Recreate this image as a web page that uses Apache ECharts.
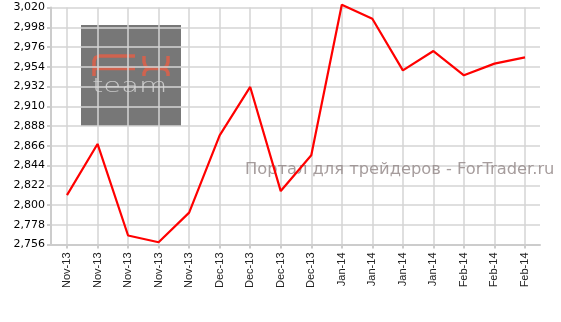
<!DOCTYPE html>
<html>
<head>
<meta charset="utf-8">
<script src="https://cdn.jsdelivr.net/npm/echarts@6/dist/echarts.min.js"></script>
<style>
html,body{margin:0;padding:0;background:#fff;}
#chart{width:561px;height:322px;}
</style>
</head>
<body>
<div id="chart"></div>
<script>
var categories = ['Nov-13','Nov-13','Nov-13','Nov-13','Nov-13','Dec-13','Dec-13','Dec-13','Dec-13','Jan-14','Jan-14','Jan-14','Jan-14','Feb-14','Feb-14','Feb-14'];
var values = [2811, 2868, 2766, 2758.5, 2791.5, 2877.5, 2931.5, 2815.5, 2855.5, 3023, 3007.5, 2950, 2971.5, 2944.5, 2957.5, 2964.5];
var yMin = 2756, yMax = 3020, yStep = 22;
var watermark = 'Портал для трейдеров - ForTrader.ru';

var chart = echarts.init(document.getElementById('chart'));
var gridTop = 7.5, gridBottom = 77.5;
var logoRed = '#d0634f';
function pl(points) {
  return {type: 'polyline', z: -9, shape: {points: points}, style: {fill: 'none', stroke: logoRed, lineWidth: 3.5, lineJoin: 'round'}};
}
chart.setOption({
  animation: false,
  grid: [
    {left: 51, right: 21, top: gridTop, bottom: gridBottom, containLabel: false},
    {left: 67, right: 36, top: gridTop, bottom: gridBottom, containLabel: false}
  ],
  graphic: [
    {type: 'rect', z: -10, shape: {x: 81, y: 25, width: 100, height: 101}, style: {fill: '#777777'}},
    pl([[94,76],[94,61],[95.5,57.5],[99,56],[135,56]]),
    pl([[94,68.5],[135,68.5]]),
    pl([[144,56],[144,62],[145.5,66.5],[149,68.5],[163,68.5],[166.5,66.5],[168,62],[168,56]]),
    pl([[144,76],[144,73],[145.5,70],[149,68.5]]),
    pl([[163,68.5],[166.5,70],[168,73],[168,76]]),
    {type: 'text', z: -9, x: 92, y: 77, scaleX: 1.45, style: {text: 'team', fill: '#c8c8c8', font: 'lighter 20px "DejaVu Sans"'}},
    {type: 'text', z: 5, x: 245, y: 162, style: {text: watermark, fill: 'rgba(150,140,140,0.85)', font: '16.3px "DejaVu Sans"'}}
  ],
  xAxis: [
    {gridIndex: 0, type: 'category', data: categories, boundaryGap: true,
     axisLine: {show: true, lineStyle: {color: '#cccccc', width: 2}},
     axisTick: {show: false}, axisLabel: {show: false}, splitLine: {show: false}},
    {gridIndex: 1, type: 'category', data: categories, boundaryGap: false,
     axisLine: {show: false},
     axisTick: {show: true, length: 4, lineStyle: {color: '#cccccc', width: 2}},
     axisLabel: {show: true, rotate: 90, interval: 0, color: '#222222', fontSize: 11, fontFamily: '"Liberation Sans", Arial', margin: 8},
     splitLine: {show: true, lineStyle: {color: '#d4d4d4', width: 1.5}}}
  ],
  yAxis: [
    {gridIndex: 0, type: 'value', min: yMin, max: yMax, interval: yStep,
     axisLine: {show: true, lineStyle: {color: '#cccccc', width: 2}},
     axisTick: {show: true, length: 4, lineStyle: {color: '#cccccc', width: 2}},
     axisLabel: {color: '#000000', fontSize: 11, fontFamily: '"DejaVu Sans", Verdana', margin: 6,
       formatter: function (v) { return v.toLocaleString('en-US'); }},
     splitLine: {show: true, lineStyle: {color: '#d4d4d4', width: 1.5}}},
    {gridIndex: 1, type: 'value', min: yMin, max: yMax, interval: yStep,
     axisLine: {show: false}, axisTick: {show: false}, axisLabel: {show: false}, splitLine: {show: false}}
  ],
  series: [{
    type: 'line', xAxisIndex: 1, yAxisIndex: 1, data: values, clip: false,
    symbol: 'none', lineStyle: {color: '#ff0000', width: 2.2}, z: 10
  }]
});
</script>
</body>
</html>
